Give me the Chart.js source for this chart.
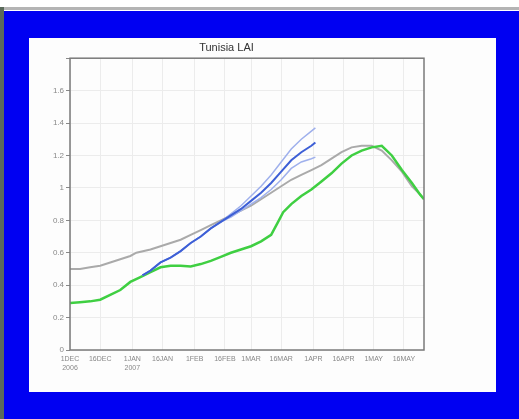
<!DOCTYPE html>
<html lang="en">
<head>
    <meta charset="UTF-8">
    <title>Tunisia LAI</title>
    <script src="https://cdn.jsdelivr.net/npm/chart.js"></script>
    <style>
        body {
            margin: 0;
            width: 519px;
            height: 419px;
            background: #fff;
            position: relative;
            overflow: hidden;
        }
        .topline {
            position: absolute; left: 0; top: 7px; width: 519px; height: 3px;
            background: #b4b4b4;
        }
        .leftstrip {
            position: absolute; left: 0; top: 7px; width: 4px; height: 412px;
            background: #5a6a5a;
        }
        .frame {
            position: absolute; left: 4px; top: 11px; width: 515px; height: 408px;
            background: #0000f2;
        }
        .panel {
            position: absolute; left: 29px; top: 38px; width: 467px; height: 354px;
            background: #fdfdfd;
        }
        canvas {
            position: absolute; left: 0; top: 0;
        }
    </style>
</head>
<body>
    <div class="topline"></div>
    <div class="leftstrip"></div>
    <div class="frame"></div>
    <div class="panel"><canvas id="lai" width="467" height="354"></canvas></div>

    <script>
        // days since 1 Dec 2006
        const tickDays = [0, 15, 31, 46, 62, 77, 90, 105, 121, 136, 151, 166];
        const tickLabels = [['1DEC', '2006'], '16DEC', ['1JAN', '2007'], '16JAN', '1FEB', '16FEB',
                            '1MAR', '16MAR', '1APR', '16APR', '1MAY', '16MAY'];

        const grayDays = [0, 5, 10, 15, 20, 25, 30, 33, 40, 45, 50, 55, 60, 65, 70, 75, 80, 85, 90, 95,
                          100, 105, 110, 115, 120, 125, 130, 135, 140, 145, 150, 155, 160, 165, 170, 174, 176];
        const grayLai = [0.50, 0.50, 0.51, 0.52, 0.54, 0.56, 0.58, 0.60, 0.62, 0.64, 0.66, 0.68, 0.71, 0.74, 0.77, 0.80,
                         0.83, 0.86, 0.89, 0.93, 0.97, 1.01, 1.05, 1.08, 1.11, 1.14, 1.18, 1.22, 1.25, 1.26, 1.26,
                         1.23, 1.17, 1.10, 1.01, 0.96, 0.93];

        const greenDays = [0, 5, 10, 15, 20, 25, 30, 35, 40, 45, 50, 55, 60, 65, 70, 75, 80, 85, 90, 95,
                           100, 103, 106, 110, 115, 120, 125, 130, 135, 140, 145, 150, 155, 160, 165, 170, 174, 176];
        const greenLai = [0.29, 0.295, 0.30, 0.31, 0.34, 0.37, 0.42, 0.45, 0.48, 0.51, 0.52, 0.52, 0.515, 0.53, 0.55,
                          0.575, 0.60, 0.62, 0.64, 0.67, 0.71, 0.78, 0.85, 0.90, 0.95, 0.99, 1.04, 1.09, 1.15, 1.20,
                          1.23, 1.25, 1.26, 1.20, 1.11, 1.03, 0.96, 0.93];

        const blueDays = [36, 40, 45, 50, 55, 60, 65, 70, 75, 80, 85, 90, 95, 100, 105, 110, 115, 120, 122];
        const blueLai = [0.46, 0.49, 0.54, 0.57, 0.61, 0.66, 0.70, 0.75, 0.79, 0.83, 0.87, 0.92, 0.97, 1.03,
                         1.10, 1.17, 1.22, 1.26, 1.28];
        const blueHigh = [0.46, 0.49, 0.54, 0.57, 0.61, 0.66, 0.70, 0.75, 0.79, 0.84, 0.89, 0.95, 1.01, 1.08,
                          1.16, 1.24, 1.30, 1.35, 1.37];
        const blueLow = [0.46, 0.49, 0.54, 0.57, 0.61, 0.66, 0.70, 0.75, 0.79, 0.82, 0.86, 0.90, 0.94, 0.99,
                         1.05, 1.12, 1.16, 1.18, 1.19];

        const pts = (xs, ys) => xs.map((d, i) => ({ x: d, y: ys[i] }));

        const frameBox = {
            id: 'frameBox',
            afterDraw(chart) {
                const a = chart.chartArea, c = chart.ctx;
                c.save();
                c.strokeStyle = '#7a7a7a';
                c.lineWidth = 1.5;
                c.strokeRect(a.left, a.top, a.right - a.left, a.bottom - a.top);
                c.restore();
            }
        };

        const line = (data, color, width) => ({
            data: data, borderColor: color, borderWidth: width,
            pointRadius: 0, tension: 0, fill: false
        });

        new Chart(document.getElementById('lai'), {
            type: 'line',
            data: {
                datasets: [
                    line(pts(blueDays, blueLai), '#3d5fd6', 2),
                    line(pts(blueDays, blueHigh), '#9fb0ec', 1.5),
                    line(pts(blueDays, blueLow), '#9fb0ec', 1.5),
                    line(pts(greenDays, greenLai), '#3fcf42', 2.5),
                    line(pts(grayDays, grayLai), '#aaaaaa', 2)
                ]
            },
            options: {
                responsive: false,
                animation: false,
                layout: { padding: { left: 0, right: 72, top: 0, bottom: 0 } },
                plugins: {
                    legend: { display: false },
                    tooltip: { enabled: false },
                    title: {
                        display: true,
                        text: 'Tunisia LAI',
                        color: '#333',
                        font: { family: 'Liberation Sans', size: 11, weight: 'normal', lineHeight: 1.2 },
                        padding: { top: 3, bottom: 4 }
                    }
                },
                scales: {
                    x: {
                        type: 'linear',
                        min: 0,
                        max: 176,
                        afterBuildTicks: s => { s.ticks = tickDays.map(v => ({ value: v })); },
                        afterFit: s => { s.height = 42; },
                        grid: { color: '#ececec', lineWidth: 1, drawTicks: false },
                        border: { display: false },
                        ticks: {
                            color: '#888',
                            font: { family: 'Liberation Sans', size: 7 },
                            padding: 5,
                            maxRotation: 0,
                            autoSkip: false,
                            callback: (v) => tickLabels[tickDays.indexOf(v)]
                        }
                    },
                    y: {
                        min: 0,
                        max: 1.8,
                        afterFit: s => { s.width = 41; },
                        grid: { color: '#ececec', lineWidth: 1, tickLength: 4, tickColor: '#888' },
                        border: { display: false },
                        ticks: {
                            stepSize: 0.2,
                            color: '#888',
                            font: { family: 'Liberation Sans', size: 8 },
                            padding: 2,
                            callback: v => v > 1.7 ? '' : String(+v.toFixed(1))
                        }
                    }
                }
            },
            plugins: [frameBox]
        });
    </script>
</body>
</html>
